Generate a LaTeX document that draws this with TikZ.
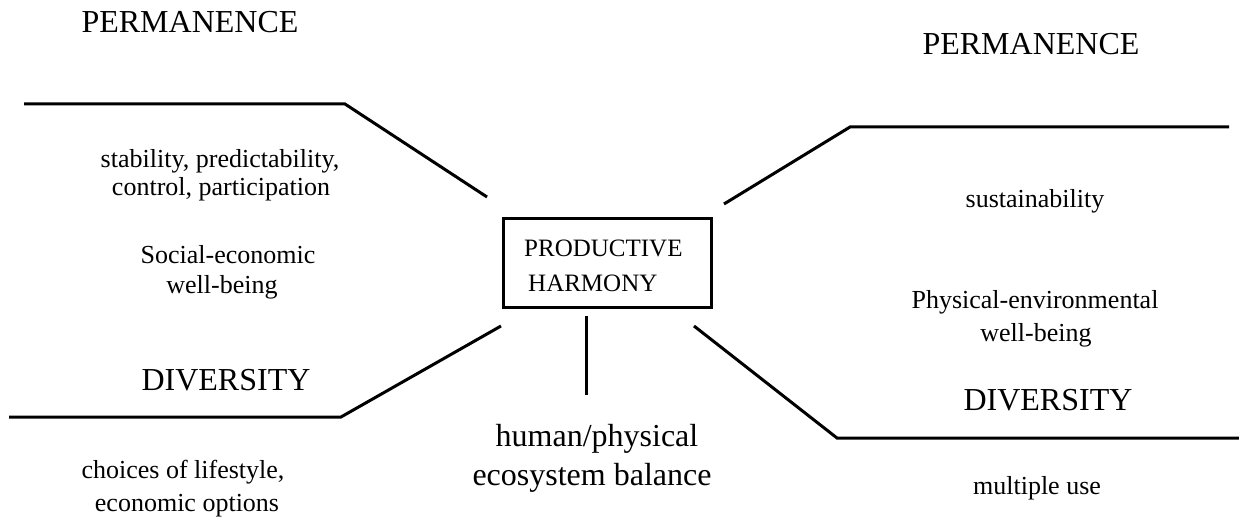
\documentclass[tikz,border=0pt]{standalone}
\usepackage{fontspec}
\setmainfont{Liberation Serif}
\begin{document}
\begin{tikzpicture}[x=1pt,y=-1pt,
  spoke/.style={line width=3pt},
  head/.style={font=\fontsize{32}{38}\selectfont, anchor=base, inner sep=0pt},
  note/.style={font=\fontsize{26}{30}\selectfont, anchor=base, inner sep=0pt},
  boxlabel/.style={font=\fontsize{25}{30}\selectfont, anchor=base west, inner sep=0pt},
  hub/.style={draw, line width=3pt, minimum width=208pt, minimum height=89pt, inner sep=0pt}]
\fill[white] (0,0) rectangle (1239,524);
\useasboundingbox (0,0) rectangle (1239,524);

% central box
\node[hub] (hub) at (607,262.5) {};
\node[boxlabel] (hub1) at (524,256) {PRODUCTIVE};
\node[boxlabel] (hub2) at (528,291) {HARMONY};

% spoke end points
\coordinate (tl-a) at (24,104);   \coordinate (tl-k) at (345,104);  \coordinate (tl-b) at (487,197);
\coordinate (tr-a) at (724,204);  \coordinate (tr-k) at (850,127);  \coordinate (tr-b) at (1229,127);
\coordinate (bl-a) at (501,326);  \coordinate (bl-k) at (341,417);  \coordinate (bl-b) at (9,417);
\coordinate (br-a) at (694,326);  \coordinate (br-k) at (837,438);  \coordinate (br-b) at (1239,438);
\coordinate (v-a) at (586,316);   \coordinate (v-b) at (586,395);

\draw[spoke] (tl-a) -- (tl-k) -- (tl-b);
\draw[spoke] (tr-a) -- (tr-k) -- (tr-b);
\draw[spoke] (bl-a) -- (bl-k) -- (bl-b);
\draw[spoke] (br-a) -- (br-k) -- (br-b);
\draw[spoke] (v-a) -- (v-b);

% left side
\node[head] (perm-l) at (190,33) {PERMANENCE};
\node[note] (stab1) at (220,167) {stability, predictability,};
\node[note] (stab2) at (221,195) {control, participation};
\node[note] (soc1) at (228,263) {Social-economic};
\node[note] (soc2) at (222,293) {well-being};
\node[head] (div-l) at (226,390) {DIVERSITY};
\node[note] (choice1) at (183,478) {choices of lifestyle,};
\node[note] (choice2) at (187,511) {economic options};

% bottom centre
\node[head] (bal1) at (597,446) {human/physical};
\node[head] (bal2) at (592,485) {ecosystem balance};

% right side
\node[head] (perm-r) at (1031,55) {PERMANENCE};
\node[note] (sust) at (1035,207) {sustainability};
\node[note] (phys1) at (1035,308) {Physical-environmental};
\node[note] (phys2) at (1036,341) {well-being};
\node[head] (div-r) at (1048,410) {DIVERSITY};
\node[note] (multi) at (1037,494) {multiple use};
\end{tikzpicture}
\end{document}
